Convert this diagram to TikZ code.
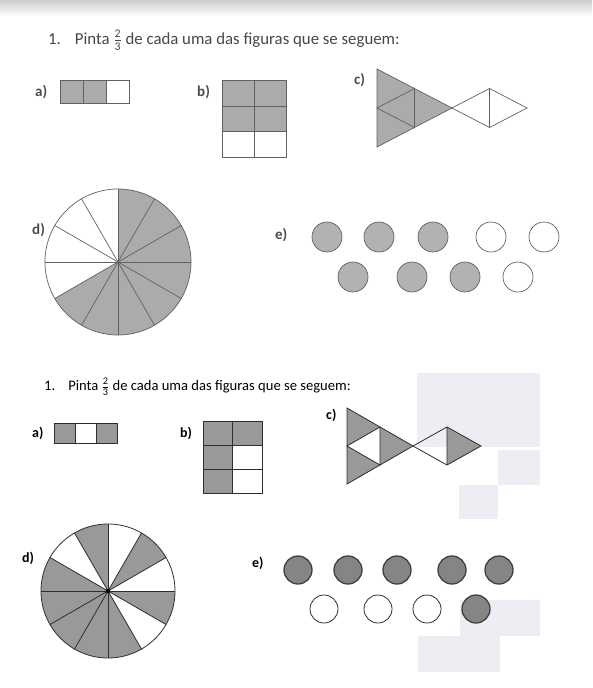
\documentclass[tikz,border=0pt]{standalone}
\usepackage{amsmath}
\usepackage{fontspec}
\setmainfont{Carlito}
\usepackage{tikz}

\definecolor{scanbg}{HTML}{EEEDF4}
\newcommand{\twothirds}{\ensuremath{\frac{\text{2}}{\text{3}}}}

\begin{document}
\begin{tikzpicture}[x=1pt,y=-1pt,
  oldline/.style={draw=black!62,line width=0.7pt},
  oldfill/.style={fill=black!33},
  newline/.style={draw=black!82,line width=0.8pt},
  newfill/.style={fill=black!40},
  oldlbl/.style={font=\bfseries\fontsize{15}{17}\selectfont,text=black!70,inner sep=0pt,anchor=west},
  newlbl/.style={font=\bfseries\fontsize{14}{16}\selectfont,inner sep=0pt,anchor=west}]
\useasboundingbox (0,0) rectangle (592,688);
\fill[white] (0,0) rectangle (592,688);
\shade[top color=black!20,bottom color=white] (0,0) rectangle (592,16);

% scan background blocks
\fill[scanbg] (417,373) rectangle (540,447);
\fill[scanbg] (498,450) rectangle (540,485);
\fill[scanbg] (459,485) rectangle (498,519);
\fill[scanbg] (460,600) rectangle (540,636);
\fill[scanbg] (418,636) rectangle (500,672);

%%%%% top copy %%%%%
\node[anchor=west,inner sep=0pt,text=black!72,font=\fontsize{16.8}{19}\selectfont] (titleA) at (48,40)
  {1.\hspace{14pt}Pinta \twothirds{} de cada uma das figuras que se seguem:};

% a)
\node[oldlbl] (labAa) at (35,92) {a)};
\fill[oldfill] (60,80) rectangle (106,103);
\draw[oldline] (60,80) rectangle (129,103) (83,80) -- (83,103) (106,80) -- (106,103);

% b)
\node[oldlbl] (labAb) at (197,92) {b)};
\fill[oldfill] (222,80) rectangle (286,131);
\draw[oldline] (222,80) rectangle (286,157) (254,80) -- (254,157)
  (222,106) -- (286,106) (222,131) -- (286,131);

% c)
\node[oldlbl] (labAc) at (354,80) {c)};
\coordinate (tA) at (377,69);
\coordinate (tB) at (377,147);
\coordinate (tM) at (377,108);
\coordinate (tT) at (414.5,88.5);
\coordinate (tU) at (414.5,127.5);
\coordinate (tP) at (452,108);
\coordinate (tQ) at (489.5,88.5);
\coordinate (tR) at (489.5,127.5);
\coordinate (tS) at (527,108);
\fill[oldfill] (tA) -- (tP) -- (tB) -- cycle;
\draw[oldline] (tA) -- (tP) -- (tB) -- cycle (tM) -- (tT) -- (tU) -- cycle;
\draw[oldline] (tP) -- (tQ) -- (tS) -- (tR) -- cycle (tQ) -- (tR);

% d)
\node[oldlbl] (labAd) at (32,230) {d)};
\coordinate (pieA) at (118,262);
\foreach \a in {-150,-120,...,60}
  \fill[oldfill] (pieA) -- ++(\a:73pt) arc[start angle=\a,end angle=\a+30,radius=73pt] -- cycle;
\foreach \a in {0,30,...,330}
  \draw[oldline] (pieA) -- ++(\a:73pt);
\draw[oldline] (pieA) circle[radius=73pt];

% e)
\node[oldlbl] (labAe) at (275,235) {e)};
\foreach \x in {327,379,433}
  \draw[oldline,fill=black!30] (\x,237) circle[radius=15pt];
\foreach \x in {491,544}
  \draw[oldline] (\x,237) circle[radius=15pt];
\foreach \x in {353,412,465}
  \draw[oldline,fill=black!30] (\x,277) circle[radius=15pt];
\draw[oldline] (518,277) circle[radius=15pt];

%%%%% bottom copy %%%%%
\node[anchor=west,inner sep=0pt,font=\fontsize{14.6}{17}\selectfont] (titleB) at (44,387)
  {1.\hspace{13pt}Pinta \twothirds{} de cada uma das figuras que se seguem:};

% a)
\node[newlbl] (labBa) at (32,433) {a)};
\fill[newfill] (54,423) rectangle (75,443) (96,423) rectangle (117,443);
\draw[newline] (54,423) rectangle (117,443) (75,423) -- (75,443) (96,423) -- (96,443);

% b)
\node[newlbl] (labBb) at (180,433) {b)};
\fill[newfill] (203,421) rectangle (262,445) (203,445) rectangle (232.5,493);
\draw[newline] (203,421) rectangle (262,493) (232.5,421) -- (232.5,493)
  (203,445) -- (262,445) (203,469) -- (262,469);

% c)
\node[newlbl] (labBc) at (326,415) {c)};
\coordinate (bA) at (347,408);
\coordinate (bB) at (347,484);
\coordinate (bM) at (347,446);
\coordinate (bT) at (380,427);
\coordinate (bU) at (380,465);
\coordinate (bP) at (413,446);
\coordinate (bQ) at (447,427);
\coordinate (bR) at (447,465);
\coordinate (bS) at (481,446);
\fill[newfill] (bA) -- (bT) -- (bM) -- cycle (bM) -- (bU) -- (bB) -- cycle
  (bT) -- (bP) -- (bU) -- cycle (bQ) -- (bS) -- (bR) -- cycle;
\draw[newline] (bA) -- (bP) -- (bB) -- cycle (bM) -- (bT) -- (bU) -- cycle;
\draw[newline] (bP) -- (bQ) -- (bS) -- (bR) -- cycle (bQ) -- (bR);

% d)
\node[newlbl] (labBd) at (22,558) {d)};
\coordinate (pieB) at (108,591);
\foreach \a in {90,150,180,210,240,270,330,30}
  \fill[newfill] (pieB) -- ++(\a:67pt) arc[start angle=\a,end angle=\a+30,radius=67pt] -- cycle;
\foreach \a in {0,30,...,330}
  \draw[newline] (pieB) -- ++(\a:67pt);
\draw[newline] (pieB) circle[radius=67pt];
\fill (pieB) circle[radius=2.2pt];

% e)
\node[newlbl] (labBe) at (252,563) {e)};
\foreach \x in {298,348,397,452,499}
  \draw[draw=black!75,line width=1.3pt,fill=black!48] (\x,570) circle[radius=14pt];
\foreach \x in {324,378,427}
  \draw[newline] (\x,609) circle[radius=14pt];
\draw[draw=black!75,line width=1.3pt,fill=black!48] (476,609) circle[radius=14pt];
\end{tikzpicture}
\end{document}
